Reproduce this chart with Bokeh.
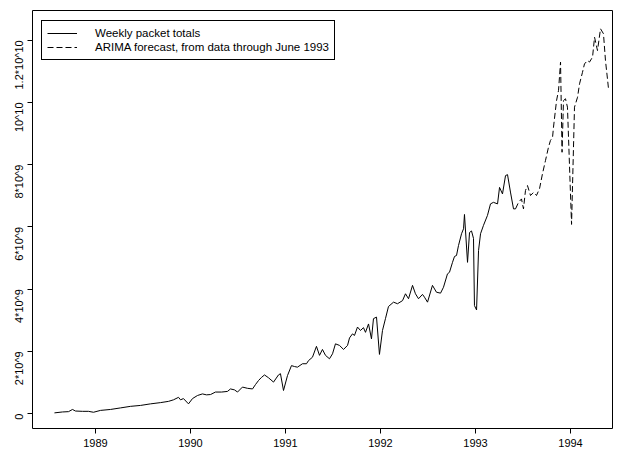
import math

from bokeh.embed import file_html
from bokeh.models import FixedTicker, Legend, LegendItem, Range1d
from bokeh.plotting import figure
from bokeh.resources import INLINE

# Weekly packet totals (units of 10^9 packets), decimal-year time stamps
obs_year = [1988.568, 1988.653, 1988.716, 1988.758, 1988.789, 1988.863, 1988.926, 1988.979, 1989.053, 1989.158,
            1989.263, 1989.368, 1989.474, 1989.579, 1989.684, 1989.768, 1989.821, 1989.874, 1989.895, 1989.926,
            1989.979, 1990.021, 1990.074, 1990.126, 1990.168, 1990.211, 1990.263, 1990.326, 1990.389, 1990.421,
            1990.463, 1990.495, 1990.547, 1990.600, 1990.653, 1990.684, 1990.716, 1990.747, 1990.779, 1990.821,
            1990.874, 1990.926, 1990.947, 1990.979, 1991.021, 1991.063, 1991.095, 1991.126, 1991.179, 1991.221,
            1991.242, 1991.284, 1991.326, 1991.358, 1991.389, 1991.421, 1991.463, 1991.495, 1991.526, 1991.568,
            1991.611, 1991.653, 1991.674, 1991.705, 1991.726, 1991.758, 1991.789, 1991.821, 1991.842, 1991.874,
            1991.905, 1991.926, 1991.958, 1991.989, 1992.021, 1992.053, 1992.084, 1992.137, 1992.179, 1992.232,
            1992.263, 1992.295, 1992.337, 1992.368, 1992.400, 1992.442, 1992.463, 1992.495, 1992.547, 1992.589,
            1992.632, 1992.663, 1992.705, 1992.726, 1992.758, 1992.779, 1992.800, 1992.821, 1992.853, 1992.874,
            1992.884, 1992.916, 1992.937, 1992.958, 1992.979, 1992.989, 1993.011, 1993.032, 1993.053, 1993.084,
            1993.126, 1993.158, 1993.189, 1993.232, 1993.253, 1993.284, 1993.316, 1993.337, 1993.368, 1993.400,
            1993.421]
obs_pkts = [0.02, 0.05, 0.06, 0.13, 0.08, 0.07, 0.07, 0.04, 0.10, 0.13,
            0.18, 0.23, 0.26, 0.31, 0.35, 0.39, 0.44, 0.52, 0.44, 0.48,
            0.31, 0.48, 0.58, 0.63, 0.60, 0.61, 0.69, 0.69, 0.71, 0.79,
            0.76, 0.69, 0.85, 0.81, 0.79, 0.93, 1.06, 1.16, 1.24, 1.15,
            1.01, 1.24, 1.28, 0.74, 1.22, 1.54, 1.51, 1.49, 1.60, 1.60,
            1.70, 1.81, 2.16, 1.87, 2.06, 1.87, 1.76, 1.92, 2.24, 2.19,
            2.06, 2.19, 2.43, 2.56, 2.51, 2.78, 2.67, 2.76, 2.61, 2.88,
            2.40, 3.05, 3.10, 1.90, 2.67, 3.06, 3.44, 3.58, 3.53, 3.63,
            3.85, 3.69, 4.12, 3.85, 3.69, 3.83, 3.74, 3.58, 4.12, 3.90,
            3.87, 4.06, 4.49, 4.54, 4.86, 5.05, 5.08, 5.40, 5.78, 5.94,
            6.40, 4.86, 5.82, 5.87, 5.63, 3.47, 3.33, 5.24, 5.78, 6.05,
            6.37, 6.74, 6.79, 6.74, 7.27, 7.06, 7.65, 7.68, 7.12, 6.58,
            6.58]

# ARIMA forecast continuing from the last observed week
fc_year = [1993.421, 1993.453, 1993.484, 1993.505, 1993.526, 1993.547, 1993.579, 1993.611, 1993.642, 1993.674,
           1993.705, 1993.737, 1993.768, 1993.789, 1993.811, 1993.821, 1993.853, 1993.874, 1993.895, 1993.911,
           1993.926, 1993.947, 1993.968, 1994.011, 1994.042, 1994.074, 1994.095, 1994.126, 1994.147, 1994.179,
           1994.200, 1994.232, 1994.253, 1994.284, 1994.316, 1994.347, 1994.368, 1994.389, 1994.400]
fc_pkts = [6.58, 6.79, 6.90, 6.58, 7.17, 7.33, 7.01, 7.11, 7.01, 7.23,
           7.71, 8.14, 8.56, 8.78, 8.88, 9.21, 10.06, 10.39, 11.30, 8.40,
           10.06, 10.12, 9.85, 6.08, 9.85, 10.17, 10.60, 10.97, 11.24, 11.35,
           11.30, 11.46, 12.10, 11.67, 12.37, 12.21, 11.35, 10.76, 10.44]

x_ticks = [1989, 1990, 1991, 1992, 1993, 1994]
y_ticks = [0, 2, 4, 6, 8, 10, 12]
y_tick_labels = ["0", "2*10^9", "4*10^9", "6*10^9", "8*10^9", "10^10", "1.2*10^10"]
legend_labels = ["Weekly packet totals", "ARIMA forecast, from data through June 1993"]

FONT = "Liberation Sans"

p = figure(width=621, height=451, output_backend="svg", toolbar_location=None, title=None,
           x_range=Range1d(1988.337, 1994.442), y_range=Range1d(-0.482, 12.958),
           min_border_left=32, min_border_right=9, min_border_top=10, min_border_bottom=23)
# closed box around the plotting region
p.outline_line_color = "black"
p.outline_line_width = 1
p.outline_line_alpha = 1
p.grid.visible = False
p.background_fill_color = "white"
p.border_fill_color = "white"

xa = p.xaxis[0]
xa.ticker = FixedTicker(ticks=x_ticks, minor_ticks=[])
xa.axis_line_color = None
xa.major_tick_line_color = "black"
xa.major_tick_in = 0
xa.major_tick_out = 5
xa.minor_tick_line_color = None
xa.minor_tick_out = 0
xa.major_label_standoff = 5
xa.major_label_text_font = FONT
xa.major_label_text_font_size = "11px"
xa.major_label_text_color = "black"

ya = p.yaxis[0]
ya.ticker = FixedTicker(ticks=y_ticks, minor_ticks=[])
ya.major_label_overrides = dict(zip(y_ticks, y_tick_labels))
ya.major_label_orientation = math.pi / 2
ya.axis_line_color = None
ya.major_tick_line_color = "black"
ya.major_tick_in = 0
ya.major_tick_out = 5
ya.minor_tick_line_color = None
ya.minor_tick_out = 0
ya.major_label_standoff = 8
ya.major_label_text_font = FONT
ya.major_label_text_font_size = "11px"
ya.major_label_text_color = "black"

r_obs = p.line(obs_year, obs_pkts, line_color="black", line_width=1)
r_fc = p.line(fc_year, fc_pkts, line_color="black", line_width=1, line_dash="6 3")

legend = Legend(
    items=[LegendItem(label=legend_labels[0], renderers=[r_obs]),
           LegendItem(label=legend_labels[1], renderers=[r_fc])],
    location=(9, 368), orientation="vertical",
    border_line_color="black", border_line_width=1, border_line_alpha=1,
    background_fill_color="white", background_fill_alpha=1,
    padding=5, spacing=0, margin=0,
    glyph_width=30, glyph_height=14, label_height=14, label_standoff=18,
    label_text_font=FONT, label_text_font_size="11.5px", label_text_color="black",
)
p.add_layout(legend)

open("out.html", "w").write(file_html(p, INLINE))
